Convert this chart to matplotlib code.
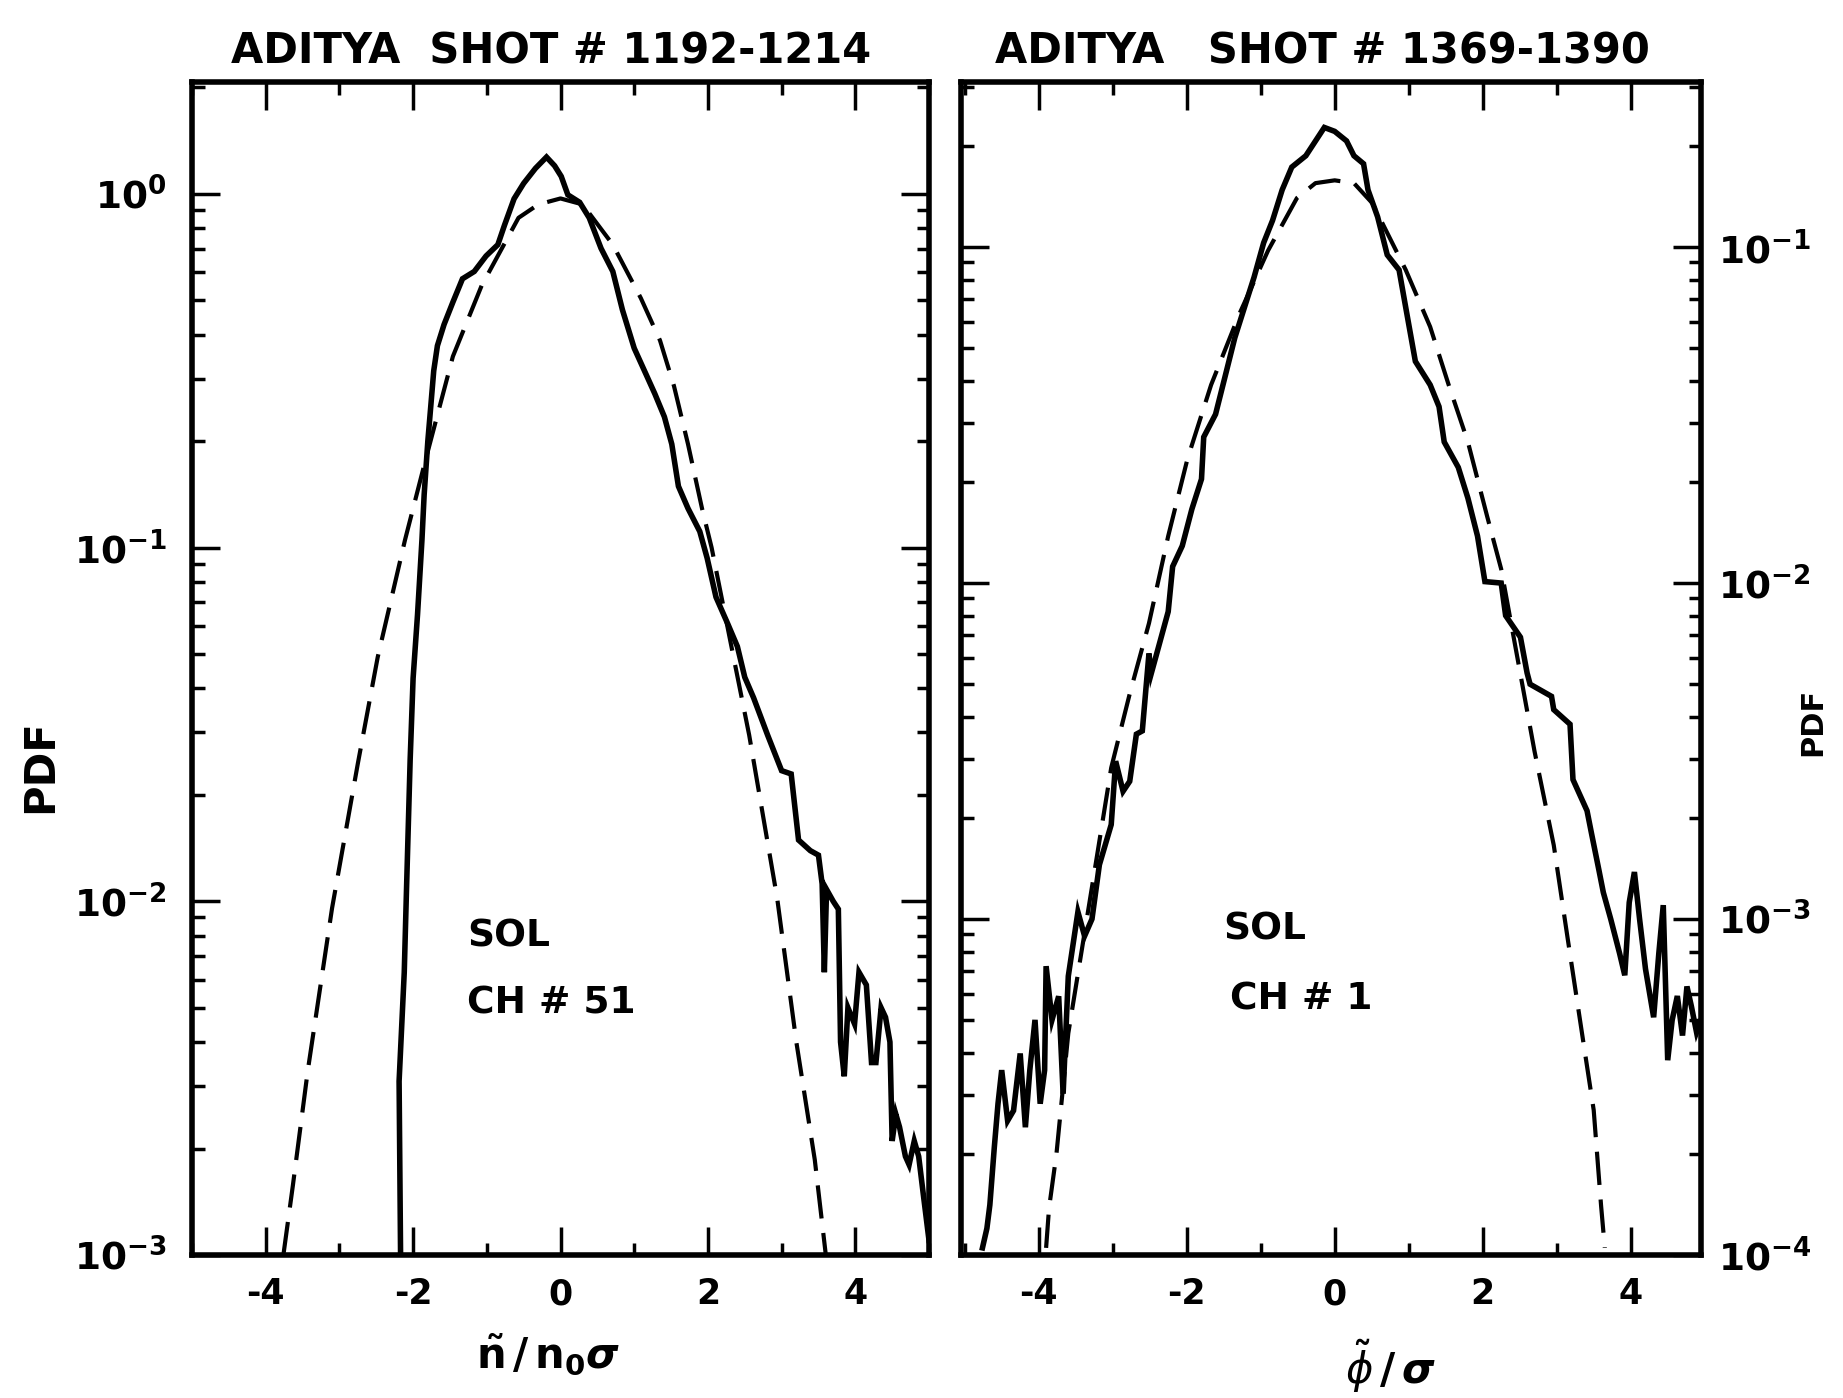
import numpy as np
import matplotlib
matplotlib.use("Agg")
import matplotlib.pyplot as plt
from matplotlib.ticker import MultipleLocator, LogLocator, NullFormatter, FixedLocator

# ---------------- data ----------------
# Left panel: SOL CH#51, shots 1192-1214
left_solid_x = [-2.17, -2.19, -2.12, -2.09, -2.04, -2.00, -1.94, -1.88, -1.85, -1.80,
                -1.76, -1.72, -1.67, -1.58, -1.46, -1.33, -1.17, -1.01, -0.85, -0.76,
                -0.63, -0.50, -0.34, -0.19, -0.08, 0.01, 0.10, 0.26, 0.39, 0.55,
                0.71, 0.84, 1.00, 1.16, 1.28, 1.41, 1.51, 1.60, 1.73, 1.89,
                1.99, 2.11, 2.27, 2.40, 2.50, 2.62, 2.81, 3.00, 3.13, 3.23,
                3.39, 3.50, 3.55, 3.58, 3.61, 3.70, 3.77, 3.80, 3.85, 3.90,
                3.99, 4.05, 4.15, 4.22, 4.28, 4.35, 4.41, 4.47, 4.50, 4.55,
                4.60, 4.68, 4.73, 4.80, 4.86, 4.92, 5.00]
left_solid_y = [0.0010, 0.0031, 0.0063, 0.0107, 0.0251, 0.0427, 0.0646, 0.105, 0.141, 0.200,
                0.251, 0.316, 0.372, 0.427, 0.494, 0.575, 0.603, 0.667, 0.718, 0.815,
                0.968, 1.07, 1.18, 1.27, 1.20, 1.12, 0.993, 0.946, 0.855, 0.701,
                0.603, 0.470, 0.366, 0.309, 0.272, 0.234, 0.196, 0.149, 0.129, 0.111,
                0.0933, 0.0724, 0.0608, 0.0525, 0.0430, 0.0376, 0.0295, 0.0234, 0.0229, 0.0149,
                0.0139, 0.0135, 0.0112, 0.0063, 0.0108, 0.0100, 0.0095, 0.0040, 0.0032, 0.0050,
                0.0045, 0.0063, 0.0058, 0.0035, 0.0035, 0.0050, 0.0047, 0.0040, 0.0021, 0.0025,
                0.0023, 0.0019, 0.0018, 0.0021, 0.0019, 0.0015, 0.0011]

left_gauss_x = [-3.76, -3.63, -3.43, -3.10, -2.75, -2.48, -2.11, -1.84, -1.46, -1.07,
                -0.57, -0.30, 0.00, 0.30, 0.71, 1.09, 1.35, 1.54, 1.73, 1.92,
                2.05, 2.56, 2.94, 3.20, 3.45, 3.60]
left_gauss_y = [0.0010, 0.00158, 0.00331, 0.00955, 0.0245, 0.0490, 0.105, 0.174, 0.347, 0.550,
                0.855, 0.933, 0.970, 0.933, 0.718, 0.507, 0.385, 0.286, 0.196, 0.129,
                0.100, 0.0295, 0.0102, 0.0040, 0.00186, 0.0010]

# Right panel: SOL CH#1, shots 1369-1390
right_solid_x = [-4.76, -4.70, -4.66, -4.60, -4.55, -4.50, -4.42, -4.34, -4.25, -4.18,
                 -4.12, -4.05, -3.98, -3.92, -3.90, -3.82, -3.73, -3.67, -3.60, -3.47,
                 -3.38, -3.28, -3.18, -3.02, -2.96, -2.86, -2.77, -2.68, -2.60, -2.51,
                 -2.48, -2.38, -2.25, -2.19, -2.06, -1.93, -1.80, -1.77, -1.61, -1.48,
                 -1.35, -1.22, -1.09, -0.96, -0.84, -0.71, -0.58, -0.39, -0.14, 0.00,
                 0.16, 0.26, 0.39, 0.45, 0.58, 0.71, 0.87, 0.96, 1.09, 1.29,
                 1.41, 1.48, 1.67, 1.80, 1.93, 2.03, 2.25, 2.31, 2.51, 2.60,
                 2.64, 2.93, 2.96, 3.18, 3.22, 3.41, 3.47, 3.57, 3.63, 3.73,
                 3.85, 3.92, 3.98, 4.05, 4.12, 4.20, 4.31, 4.38, 4.44, 4.50,
                 4.56, 4.63, 4.70, 4.76, 4.82, 4.89, 4.95]
right_solid_y = [0.000105, 0.000120, 0.000141, 0.000209, 0.000282, 0.000355, 0.000251, 0.000269, 0.000398, 0.000240,
                 0.000355, 0.000501, 0.000282, 0.000355, 0.000724, 0.000501, 0.000589, 0.000302, 0.000676, 0.00105,
                 0.00089, 0.00100, 0.00145, 0.00191, 0.00295, 0.00240, 0.00257, 0.00355, 0.00363, 0.00617,
                 0.00537, 0.00646, 0.00822, 0.0112, 0.0129, 0.0166, 0.0204, 0.0272, 0.0318, 0.0413,
                 0.0537, 0.0661, 0.0813, 0.103, 0.120, 0.148, 0.173, 0.187, 0.227, 0.221,
                 0.207, 0.187, 0.177, 0.148, 0.123, 0.0948, 0.0855, 0.0661, 0.0457, 0.0389,
                 0.0335, 0.0263, 0.0221, 0.0179, 0.0138, 0.0101, 0.0100, 0.0080, 0.0069, 0.0054,
                 0.0050, 0.0046, 0.0042, 0.0038, 0.0026, 0.0021, 0.0018, 0.0014, 0.0012, 0.0010,
                 0.00079, 0.00068, 0.00112, 0.00138, 0.00100, 0.00071, 0.00051, 0.00079, 0.00110, 0.00038,
                 0.00050, 0.00059, 0.00045, 0.00063, 0.00055, 0.00046, 0.00050]

right_gauss_x = [-3.90, -3.86, -3.76, -3.60, -3.30, -3.02, -2.77, -2.51, -2.25, -1.99,
                 -1.67, -1.29, -0.90, -0.51, -0.26, 0.00, 0.26, 0.51, 0.96, 1.29,
                 1.54, 1.80, 2.06, 2.25, 2.70, 2.96, 3.15, 3.34, 3.50, 3.60, 3.65]
right_gauss_y = [0.000105, 0.000138, 0.000200, 0.000457, 0.00117, 0.00282, 0.00468, 0.00759, 0.0138, 0.0234,
                 0.0389, 0.0631, 0.0977, 0.140, 0.155, 0.158, 0.155, 0.135, 0.0855, 0.0579,
                 0.0389, 0.0263, 0.0158, 0.0110, 0.00316, 0.00166, 0.00087, 0.00046, 0.00027, 0.00014, 0.000105]

left_title = "ADITYA  SHOT # 1192-1214"
right_title = "ADITYA   SHOT # 1369-1390"
left_xlabel = r"$\mathbf{\tilde{n}\,/\,n_{0}}\boldsymbol{\sigma}$"
right_xlabel = r"$\boldsymbol{\tilde{\phi}\,/\,\sigma}$"
left_note = ["SOL", "CH # 51"]
right_note = ["SOL", "CH # 1"]
xticks = [-4, -2, 0, 2, 4]
left_yticks = [1e-3, 1e-2, 1e-1, 1e0]
left_yticklabels = [r"$\mathbf{10^{-3}}$", r"$\mathbf{10^{-2}}$", r"$\mathbf{10^{-1}}$", r"$\mathbf{10^{0}}$"]
right_yticks = [1e-4, 1e-3, 1e-2, 1e-1]
right_yticklabels = [r"$\mathbf{10^{-4}}$", r"$\mathbf{10^{-3}}$", r"$\mathbf{10^{-2}}$", r"$\mathbf{10^{-1}}$"]

# ---------------- figure ----------------
plt.rcParams['font.family'] = ['DejaVu Sans']
plt.rcParams['mathtext.fontset'] = 'dejavusans'

W, H = 1843, 1398
fig = plt.figure(figsize=(W / 100, H / 100), dpi=100)
fig.patch.set_facecolor('white')

ax1 = fig.add_axes([192 / W, 1 - 1255 / H, (929 - 192) / W, (1255 - 82) / H])
ax2 = fig.add_axes([961 / W, 1 - 1255 / H, (1701 - 961) / W, (1255 - 82) / H])


def style(ax, ylim, xlim, yticks, ylabels, label_right):
    ax.set_yscale('log')
    ax.set_xlim(*xlim)
    ax.set_ylim(*ylim)
    for s in ax.spines.values():
        s.set_linewidth(4)
    ax.xaxis.set_major_locator(FixedLocator(xticks))
    ax.xaxis.set_minor_locator(MultipleLocator(1))
    ax.set_xticklabels([f"{t:d}" for t in xticks], fontsize=25, fontweight='bold')
    ax.yaxis.set_major_locator(FixedLocator(yticks))
    ax.yaxis.set_minor_locator(LogLocator(base=10, subs=np.arange(2, 10)))
    ax.yaxis.set_minor_formatter(NullFormatter())
    ax.set_yticklabels(ylabels, fontsize=27)
    ax.tick_params(which='both', direction='in', top=True, bottom=True,
                   left=True, right=True, width=2.5)
    ax.tick_params(which='major', length=20)
    ax.tick_params(which='minor', length=9)
    ax.tick_params(axis='x', which='major', pad=16)
    if label_right:
        ax.tick_params(axis='y', labelleft=False, labelright=True, pad=12)
    else:
        ax.tick_params(axis='y', labelleft=True, labelright=False, pad=18)


style(ax1, (1e-3, 2.07), (-5.0, 5.0), left_yticks, left_yticklabels, False)
style(ax2, (1e-4, 0.31), (-5.05, 4.95), right_yticks, right_yticklabels, True)

ax1.plot(left_solid_x, left_solid_y, color='black', lw=4, solid_joinstyle='miter')
ax1.plot(left_gauss_x, left_gauss_y, color='black', lw=3, dashes=(8, 3.5))
ax2.plot(right_solid_x, right_solid_y, color='black', lw=4, solid_joinstyle='miter')
ax2.plot(right_gauss_x, right_gauss_y, color='black', lw=3, dashes=(8, 3.5))

ax1.text(-1.27, 10 ** -2.10, left_note[0], fontsize=27, fontweight='bold', va='center', ha='left')
ax1.text(-1.27, 10 ** -2.29, left_note[1], fontsize=27, fontweight='bold', va='center', ha='left')
ax2.text(-1.51, 10 ** -3.03, right_note[0], fontsize=27, fontweight='bold', va='center', ha='left')
ax2.text(-1.41, 10 ** -3.24, right_note[1], fontsize=27, fontweight='bold', va='center', ha='left')

fig.text(551 / W, 1 - 52 / H, left_title, fontsize=30, fontweight='bold', ha='center', va='center')
fig.text(1322 / W, 1 - 52 / H, right_title, fontsize=30, fontweight='bold', ha='center', va='center')

fig.text(548 / W, 1 - 1354 / H, left_xlabel, fontsize=30, ha='center', va='center')
fig.text(1390 / W, 1 - 1366 / H, right_xlabel, fontsize=30, ha='center', va='center')

fig.text(40 / W, 1 - 766 / H, "PDF", fontsize=30, fontweight='bold', rotation=90, ha='center', va='center')
fig.text(1813 / W, 1 - 722 / H, "PDF", fontsize=22, fontweight='bold', rotation=90, ha='center', va='center')

fig.savefig("out.png", dpi=100, facecolor='white')
